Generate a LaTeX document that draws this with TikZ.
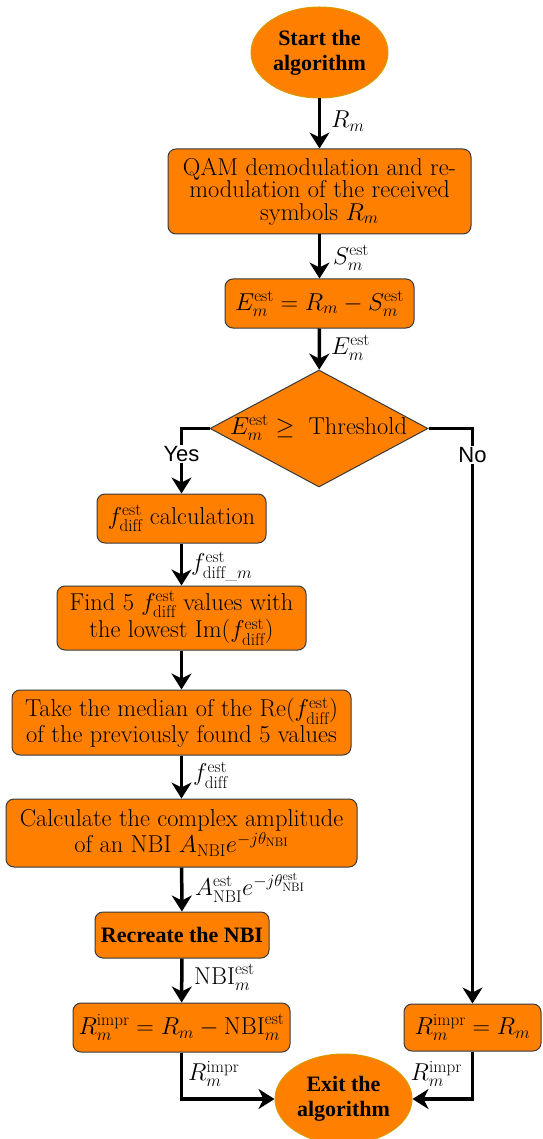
\RequirePackage{fix-cm}
\documentclass[tikz,border=0pt]{standalone}
\usepackage{amsmath}
\usepackage{fontspec}
\newfontfamily\boldserif{Liberation Serif}
\newfontfamily\labelsans{Liberation Sans}
\usetikzlibrary{shapes.geometric,arrows.meta}
\definecolor{boxorange}{HTML}{FF8000}
\definecolor{ellborder}{HTML}{D79B00}
\definecolor{boxborder}{HTML}{36393D}
\begin{document}
\begin{tikzpicture}[x=1pt,y=-1pt,
 every node/.style={font=\fontsize{24.4}{22.5}\selectfont},
 procbox/.style={draw=boxborder, line width=1pt, fill=boxorange, rounded corners=8pt, align=center, inner sep=0pt},
 term/.style={ellipse, draw=ellborder, line width=1pt, fill=boxorange, align=center, inner sep=0pt, font=\fontsize{22}{25}\selectfont\boldserif\bfseries},
 flow/.style={line width=3.5pt, -{Stealth[length=16pt,width=20pt,inset=5pt]}},
 lbl/.style={anchor=west, inner sep=0pt},
 yn/.style={fill=white, inner sep=1pt, font=\fontsize{22}{24}\selectfont\labelsans}
]
\useasboundingbox (0,0) rectangle (542,1139);

\node[term, minimum width=137pt, minimum height=91pt] (start) at (319.5,52.5) {Start the\\algorithm};
\node[procbox, minimum width=303pt, minimum height=85pt] (qam) at (319.5,191.5) {QAM demodulation and re-\\modulation of the received\\symbols $R_m$};
\node[procbox, minimum width=189pt, minimum height=49pt] (est) at (319.5,303.5) {$E_m^{\mathrm{est}} = R_m - S_m^{\mathrm{est}}$};
\node[diamond, draw=boxborder, line width=1pt, fill=boxorange, minimum width=218pt, minimum height=117pt, inner sep=0pt] (dec) at (319,428.5) {};
\node[inner sep=0pt] (dectext) at (318.5,428) {$E_m^{\mathrm{est}} \geq{}$ Threshold};

\node[procbox, minimum width=169pt, minimum height=49pt] (fcalc) at (181.5,518.5) {$f_{\mathrm{diff}}^{\mathrm{est}}$ calculation};
\node[procbox, minimum width=249pt, minimum height=64pt] (find) at (181.5,618) {Find 5 $f_{\mathrm{diff}}^{\mathrm{est}}$ values with\\the lowest Im($f_{\mathrm{diff}}^{\mathrm{est}}$)};
\node[procbox, minimum width=339pt, minimum height=65pt] (take) at (181.5,722.5) {Take the median of the Re($f_{\mathrm{diff}}^{\mathrm{est}}$)\\of the previously found 5 values};
\node[procbox, minimum width=351pt, minimum height=68pt] (calc) at (181.5,833) {Calculate the complex amplitude\\of an NBI $A_{\mathrm{NBI}}e^{-j\theta_{\mathrm{NBI}}}$};
\node[procbox, minimum width=174pt, minimum height=46pt, font=\fontsize{22}{25}\selectfont\boldserif\bfseries] (recr) at (182,935) {Recreate the NBI};
\node[procbox, minimum width=217pt, minimum height=49pt] (rl) at (181.5,1027.5) {$R_m^{\mathrm{impr}} = R_m - \mathrm{NBI}_m^{\mathrm{est}}$};
\node[procbox, minimum width=137pt, minimum height=47pt] (rr) at (472.5,1027.5) {$R_m^{\mathrm{impr}} = R_m$};
\node[term, minimum width=137pt, minimum height=90pt] (exit) at (343.5,1099) {Exit the\\algorithm};

\draw[flow] (start) -- (qam);
\draw[flow] (qam) -- (est);
\draw[flow] (est) -- (dec);
\draw[flow] (dec.west) -| (fcalc.north);
\draw[flow] (dec.east) -| (rr.north);
\draw[flow] (fcalc) -- (find);
\draw[flow] (find) -- (take);
\draw[flow] (take) -- (calc);
\draw[flow] (calc) -- (recr);
\draw[flow] (recr) -- (rl);
\draw[flow] (rl.south) |- (exit.west);
\draw[flow] (rr.south) |- (exit.east);

\node[yn] (yes) at (181.5,454) {Yes};
\node[yn] (no) at (472.5,455) {No};

\node[lbl] (l1) at (331,121) {$R_m$};
\node[lbl] (l2) at (333,258) {$S_m^{\mathrm{est}}$};
\node[lbl] (l3) at (331,348) {$E_m^{\mathrm{est}}$};
\node[lbl] (l4) at (191,566) {$f_{\mathrm{diff}\text{\_}m}^{\mathrm{est}}$};
\node[lbl] (l5) at (193,775) {$f_{\mathrm{diff}}^{\mathrm{est}}$};
\node[lbl] (l6) at (195,888) {$A_{\mathrm{NBI}}^{\mathrm{est}}e^{-j\theta_{\mathrm{NBI}}^{\mathrm{est}}}$};
\node[lbl] (l7) at (194,977) {$\mathrm{NBI}_m^{\mathrm{est}}$};
\node[lbl] (l8) at (188,1074) {$R_m^{\mathrm{impr}}$};
\node[lbl, anchor=east] (l9) at (462,1074) {$R_m^{\mathrm{impr}}$};
\end{tikzpicture}
\end{document}
